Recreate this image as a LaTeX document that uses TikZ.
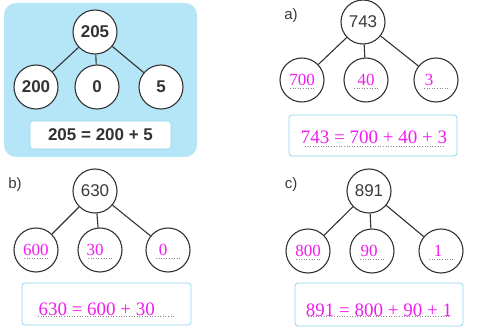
\documentclass[tikz,border=0pt]{standalone}
\usepackage{fontspec}
\setmainfont{Liberation Serif}
\setsansfont{Liberation Sans}
\usepackage{xcolor}
\definecolor{fondoPanel}{HTML}{B5E6F8}
\definecolor{bordeCaja}{HTML}{8FD3EC}
\definecolor{trazoOscuro}{HTML}{333333}
\definecolor{tintaGris}{HTML}{3A3A3A}
\definecolor{magenta}{HTML}{F21CF0}
\definecolor{puntos}{HTML}{8A8A8A}
\usepackage{tikz}

\tikzset{
  circulo/.style={circle, draw=trazoOscuro, line width=1.1pt, fill=white,
    minimum size=44pt, inner sep=0pt},
  raiz/.style={circulo, text=tintaGris, font=\sffamily\fontsize{17}{18}\selectfont},
  raizNegra/.style={circulo, text=trazoOscuro, font=\sffamily\bfseries\fontsize{17}{18}\selectfont},
  rama/.style={draw=trazoOscuro, line width=1.1pt},
  respuesta/.style={text=magenta, font=\fontsize{17}{18}\selectfont},
  igualdad/.style={text=magenta, font=\fontsize{19}{20}\selectfont},
  punteado/.style={draw=puntos, line width=0.6pt, dotted},
  caja/.style={draw=bordeCaja, line width=0.7pt, fill=white, rounded corners=3pt},
  etiqueta/.style={text=tintaGris, font=\sffamily\fontsize{15}{16}\selectfont}
}

\begin{document}
\begin{tikzpicture}[x=1pt, y=-1pt]

  \useasboundingbox (0,0) rectangle (480,334);

  % ── Ejemplo (panel azul) ──────────────────────────────────
  \fill[fondoPanel, rounded corners=12pt] (4,3) rectangle (197,157);
  \node[raizNegra] (e0) at (95,32) {205};
  \node[raizNegra] (e1) at (36,87) {200};
  \node[raizNegra] (e2) at (97,87) {0};
  \node[raizNegra] (e3) at (161,87) {5};
  \foreach \h in {e1,e2,e3}{
    \draw[rama] (e0) -- (\h);
  }
  \draw[draw=bordeCaja, line width=0.6pt, fill=white, rounded corners=3pt]
    (30,121) rectangle (171,149);
  \node[text=trazoOscuro, font=\sffamily\bfseries\fontsize{17}{18}\selectfont]
    (eq0) at (100.5,135) {205 = 200 + 5};

  % ── a) ────────────────────────────────────────────────────
  \node[etiqueta] (la) at (291,16) {a)};
  \node[raiz] (a0) at (363,22) {743};
  \node[circulo] (a1) at (302,80) {};
  \node[circulo] (a2) at (366,80) {};
  \node[circulo] (a3) at (436,80) {};
  \foreach \h in {a1,a2,a3}{
    \draw[rama] (a0) -- (\h);
  }
  \node[respuesta] at (302,80) {700};
  \node[respuesta] at (366,80) {40};
  \node[respuesta] at (429,80) {3};
  \foreach \h in {a1,a2,a3}{
    \draw[punteado] ([shift={(-12,8)}]\h.center) -- ([shift={(13,8)}]\h.center);
  }
  \draw[caja] (289,115) rectangle (457,156);
  \node[igualdad] (eqa) at (374,137) {743 = 700 + 40 + 3};
  \draw[punteado] (305,146) -- (443,146);

  % ── b) ────────────────────────────────────────────────────
  \node[etiqueta] (lb) at (15,185) {b)};
  \node[raiz] (b0) at (95,191) {630};
  \node[circulo] (b1) at (36,250) {};
  \node[circulo] (b2) at (100,250) {};
  \node[circulo] (b3) at (168,250) {};
  \foreach \h in {b1,b2,b3}{
    \draw[rama] (b0) -- (\h);
  }
  \node[respuesta] at (36,250) {600};
  \node[respuesta] at (95,250) {30};
  \node[respuesta] at (163,250) {0};
  \foreach \h in {b1,b2,b3}{
    \draw[punteado] ([shift={(-12,8)}]\h.center) -- ([shift={(13,8)}]\h.center);
  }
  \draw[caja] (22,283) rectangle (191,325);
  \node[igualdad, anchor=west] (eqb) at (35,309) {630 = 600 + 30};
  \draw[punteado] (38,316) -- (175,316);

  % ── c) ────────────────────────────────────────────────────
  \node[etiqueta] (lc) at (291,185) {c)};
  \node[raiz] (c0) at (369,191) {891};
  \node[circulo] (c1) at (308,251) {};
  \node[circulo] (c2) at (372,251) {};
  \node[circulo] (c3) at (441,251) {};
  \foreach \h in {c1,c2,c3}{
    \draw[rama] (c0) -- (\h);
  }
  \node[respuesta] at (308,251) {800};
  \node[respuesta] at (369,251) {90};
  \node[respuesta] at (438,251) {1};
  \foreach \h in {c1,c2,c3}{
    \draw[punteado] ([shift={(-12,8)}]\h.center) -- ([shift={(13,8)}]\h.center);
  }
  \draw[caja] (295,283) rectangle (463,326);
  \node[igualdad] (eqc) at (379,310) {891 = 800 + 90 + 1};
  \draw[punteado] (308,316) -- (450,316);

\end{tikzpicture}
\end{document}
